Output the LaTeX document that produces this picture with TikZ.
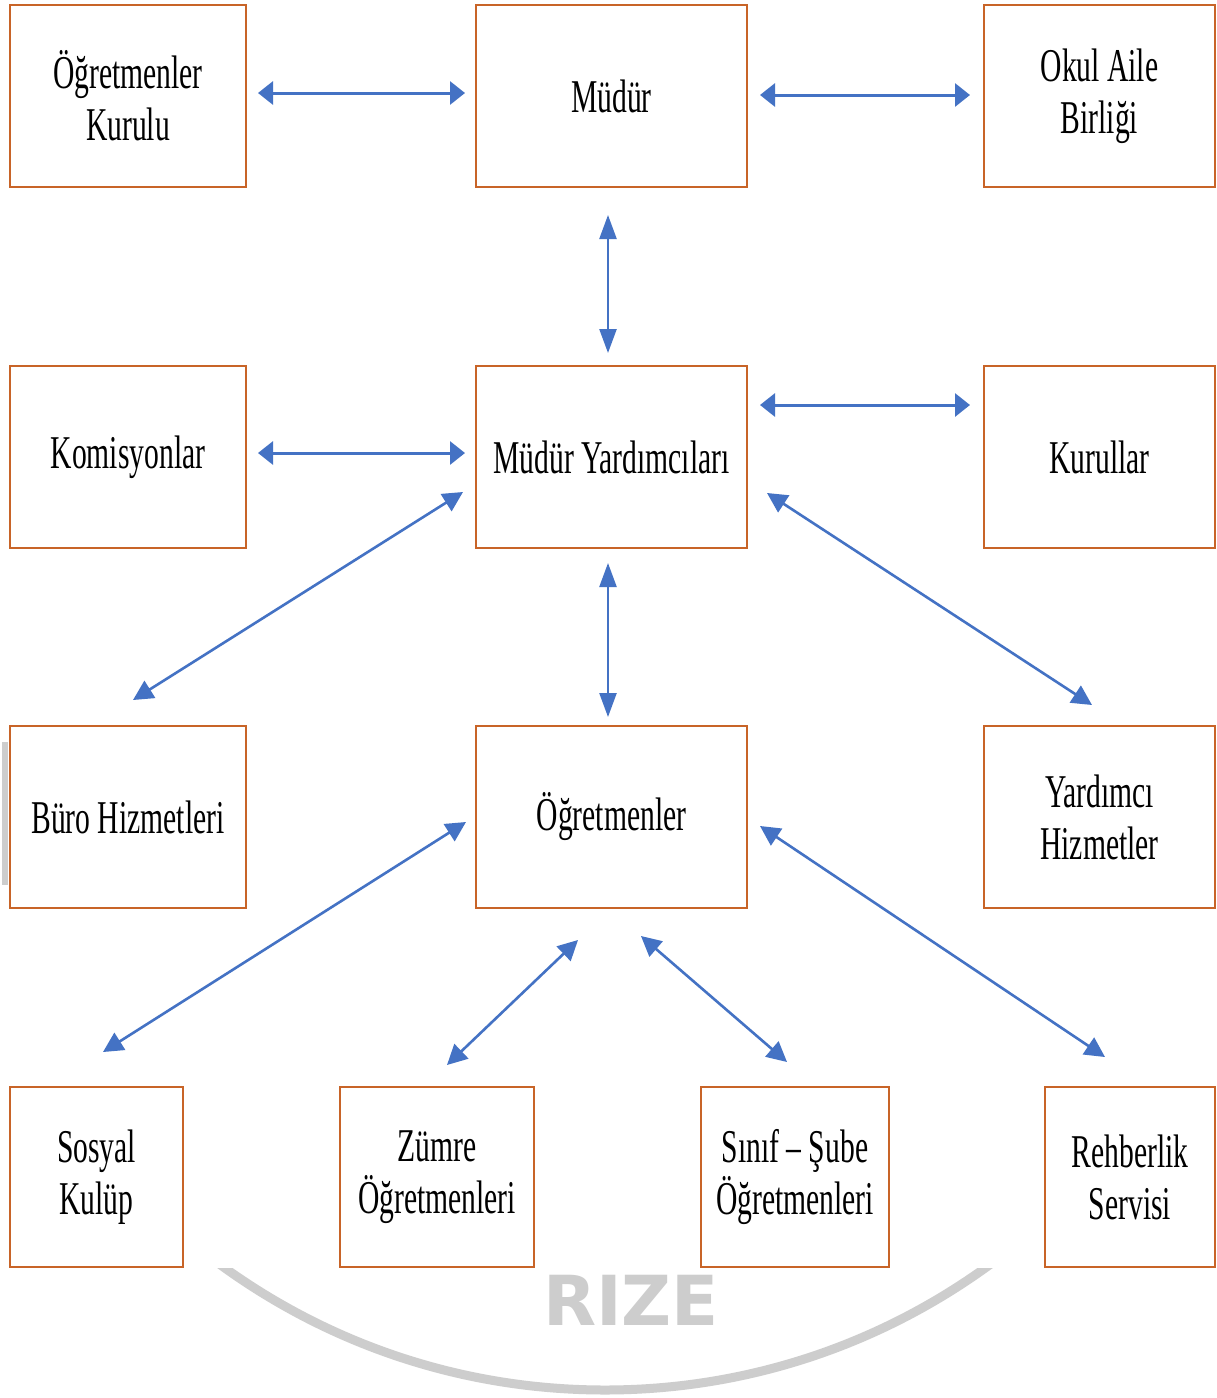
\documentclass[tikz,border=0pt]{standalone}
\usepackage{fontspec}
\setmainfont{Liberation Serif}[FakeStretch=0.63]
\newfontfamily\wmfont{DejaVu Sans}
\usetikzlibrary{arrows.meta}
\definecolor{boxc}{RGB}{200,100,40}
\definecolor{arrc}{RGB}{68,114,196}
\definecolor{wmc}{RGB}{205,205,205}
\begin{document}
\begin{tikzpicture}[x=1pt,y=-1pt,
 box/.style={draw=boxc, line width=2.2pt, fill=white, inner sep=0pt, align=center, font=\fontsize{47}{52}\selectfont, text=black},
 ha/.style={arrc, line width=3pt, {Triangle[length=15pt,width=23pt]}-{Triangle[length=15pt,width=23pt]}},
 va/.style={arrc, line width=2.4pt, {Triangle[length=24pt,width=17pt]}-{Triangle[length=24pt,width=17pt]}},
 da/.style={arrc, line width=2.6pt, {Triangle[length=20pt,width=20pt]}-{Triangle[length=20pt,width=20pt]}}]
\path[use as bounding box, fill=white] (0,0) rectangle (1216,1398);
% watermark
\begin{scope}
\clip (0,1268) rectangle (1216,1398);
\draw[wmc, line width=9pt] (605,737) circle[radius=653];
\end{scope}
\fill[wmc] (2,742) rectangle (8,885);
\node[font=\wmfont\bfseries\fontsize{69}{69}\selectfont, text=wmc, inner sep=0pt] (rize) at (631,1300) {RIZE};
% boxes
\node[box, minimum width=236pt, minimum height=182pt] (okk) at (128,96) {Öğretmenler\\Kurulu};
\node[box, minimum width=271pt, minimum height=182pt] (mud) at (611.5,96) {Müdür};
\node[box, minimum width=231pt, minimum height=182pt] (oab) at (1099.5,96) {Okul Aile\\Birliği};
\node[box, minimum width=236pt, minimum height=182pt] (kom) at (128,457) {Komisyonlar};
\node[box, minimum width=271pt, minimum height=182pt] (my) at (611.5,457) {Müdür Yardımcıları};
\node[box, minimum width=231pt, minimum height=182pt] (kur) at (1099.5,457) {Kurullar};
\node[box, minimum width=236pt, minimum height=182pt] (buro) at (128,817) {Büro Hizmetleri};
\node[box, minimum width=271pt, minimum height=182pt] (ogr) at (611.5,817) {Öğretmenler};
\node[box, minimum width=231pt, minimum height=182pt] (yh) at (1099.5,817) {Yardımcı\\Hizmetler};
\node[box, minimum width=173pt, minimum height=180pt] (sk) at (96.5,1177) {Sosyal\\Kulüp};
\node[box, minimum width=194pt, minimum height=180pt] (zo) at (437,1177) {Zümre\\Öğretmenleri};
\node[box, minimum width=188pt, minimum height=180pt] (so) at (795,1177) {Sınıf – Şube\\Öğretmenleri};
\node[box, minimum width=170pt, minimum height=180pt] (rs) at (1130,1177) {Rehberlik\\Servisi};
% arrow end points
\coordinate (a1) at (258,93);  \coordinate (a2) at (465,93);
\coordinate (b1) at (760,95);  \coordinate (b2) at (970,95);
\coordinate (c1) at (608,215); \coordinate (c2) at (608,353);
\coordinate (d1) at (258,453); \coordinate (d2) at (465,453);
\coordinate (e1) at (760,405); \coordinate (e2) at (970,405);
\coordinate (f1) at (463,492); \coordinate (f2) at (133,700);
\coordinate (g1) at (767,493); \coordinate (g2) at (1092,705);
\coordinate (h1) at (608,563); \coordinate (h2) at (608,717);
\coordinate (i1) at (466,822); \coordinate (i2) at (103,1052);
\coordinate (j1) at (760,826); \coordinate (j2) at (1105,1057);
\coordinate (k1) at (578,940); \coordinate (k2) at (447,1065);
\coordinate (l1) at (641,936); \coordinate (l2) at (787,1062);
% connectors
\draw[ha] (a1) -- (a2);
\draw[ha] (b1) -- (b2);
\draw[va] (c1) -- (c2);
\draw[ha] (d1) -- (d2);
\draw[ha] (e1) -- (e2);
\draw[da] (f1) -- (f2);
\draw[da] (g1) -- (g2);
\draw[va] (h1) -- (h2);
\draw[da] (i1) -- (i2);
\draw[da] (j1) -- (j2);
\draw[da] (k1) -- (k2);
\draw[da] (l1) -- (l2);
\end{tikzpicture}
\end{document}
